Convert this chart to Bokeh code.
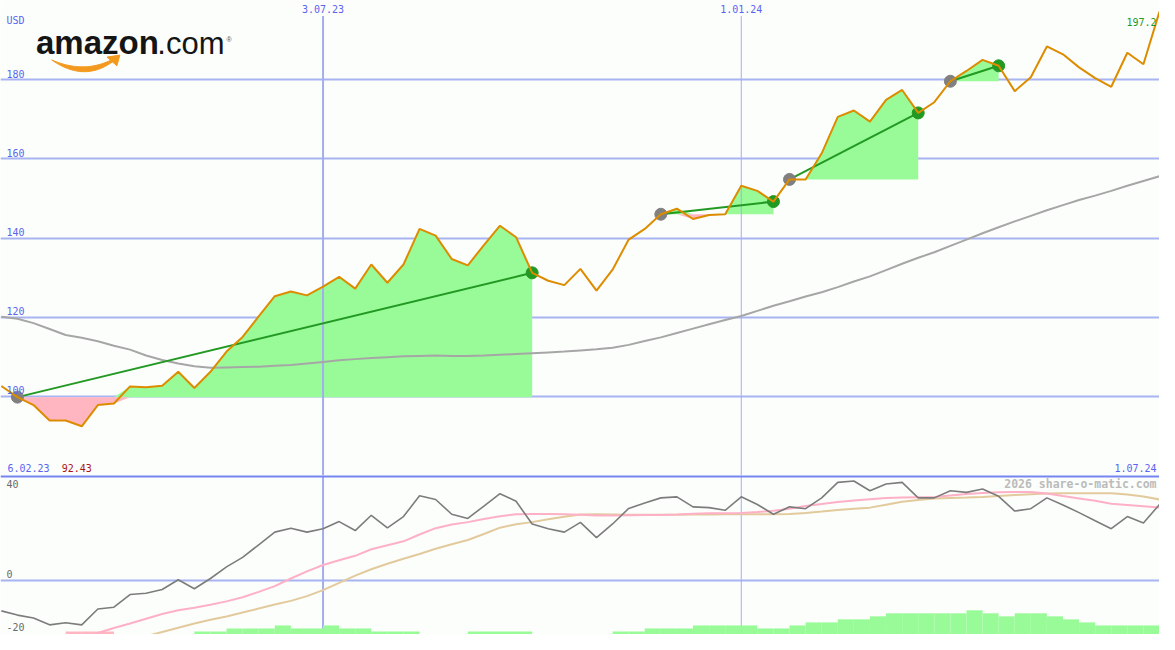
import numpy as np
import pandas as pd
from bokeh.plotting import figure
from bokeh.layouts import column
from bokeh.models import Range1d, Grid, FixedTicker, Span
from bokeh.core.properties import value
from bokeh.embed import file_html
from bokeh.resources import INLINE

# ---------------- data ----------------
lead_date = "2023-02-13"
first_date = "2023-02-20"
n_weeks = 72

lead_price = 102.6
price = [99.8, 97.8, 93.9, 93.9, 92.43, 97.8, 98.2, 102.5, 102.3, 102.7,
         106.2, 102.1, 106.2, 111.3, 115.0, 120.2, 125.3, 126.5, 125.5, 127.7,
         130.2, 127.2, 133.3, 128.7, 133.3, 142.3, 140.6, 134.7, 133.1, 138.2,
         143.1, 140.2, 131.2, 129.2, 128.1, 132.2, 126.7, 132.0, 139.6, 142.3,
         146.0, 147.4, 144.8, 145.8, 146.0, 153.2, 151.9, 149.2, 154.8, 154.8,
         161.4, 170.6, 172.2, 169.4, 174.9, 177.4, 171.6, 174.3, 179.6, 182.2,
         185.0, 183.5, 177.1, 180.6, 188.4, 186.4, 183.1, 180.4, 178.2, 186.8,
         183.9, 197.2]

lead_avg = 120.1
avg_long = [119.6, 118.5, 117.0, 115.5, 114.8, 113.9, 112.8, 111.8, 110.3, 109.2,
            108.3, 107.6, 107.2, 107.3, 107.4, 107.5, 107.7, 107.9, 108.3, 108.7,
            109.1, 109.4, 109.7, 109.9, 110.1, 110.2, 110.3, 110.2, 110.2, 110.3,
            110.5, 110.7, 110.9, 111.1, 111.3, 111.6, 111.9, 112.3, 113.0, 114.0,
            114.9, 116.0, 117.1, 118.2, 119.3, 120.3, 121.6, 122.9, 124.0, 125.2,
            126.3, 127.6, 129.0, 130.3, 131.9, 133.5, 135.0, 136.4, 138.0, 139.6,
            141.2, 142.7, 144.2, 145.6, 147.0, 148.3, 149.6, 150.7, 151.9, 153.2,
            154.4, 155.6]

lead_mom = -11.4
momentum = [-13.0, -14.1, -16.7, -15.9, -16.7, -10.7, -10.0, -5.2, -4.7, -3.3,
            0.4, -3.0, 0.9, 5.3, 8.9, 13.7, 18.5, 20.0, 18.5, 19.8,
            22.5, 19.1, 24.9, 20.1, 24.4, 32.3, 30.9, 25.3, 23.7, 28.4,
            33.1, 30.2, 21.6, 19.8, 18.5, 22.2, 16.4, 21.6, 27.5, 29.6,
            31.5, 31.9, 28.1, 27.8, 26.8, 31.9, 29.0, 25.3, 28.1, 27.4,
            31.5, 37.4, 37.9, 34.2, 36.8, 37.4, 31.5, 31.5, 34.2, 33.6,
            34.9, 32.1, 26.5, 27.4, 31.5, 28.8, 25.9, 22.8, 19.8, 24.4,
            22.0, 29.0]

lead_fast = -30.0
fast_avg = [-28.5, -27.0, -25.3, -23.6, -21.8, -19.8, -17.9, -16.2, -14.4, -12.6,
            -11.2, -10.2, -9.1, -7.8, -6.2, -4.2, -2.0, 0.9, 3.6, 6.0,
            7.8, 9.5, 12.0, 13.5, 15.0, 17.6, 20.0, 21.4, 22.3, 23.5,
            24.5, 25.3, 25.4, 25.4, 25.3, 25.1, 24.8, 24.8, 24.9, 25.0,
            25.0, 25.2, 25.5, 25.7, 25.7, 25.8, 26.1, 26.6, 27.4, 28.4,
            29.2, 29.9, 30.5, 31.0, 31.5, 31.6, 31.7, 31.8, 32.4, 33.0,
            33.4, 33.6, 33.7, 33.7, 33.2, 32.2, 31.3, 30.4, 29.3, 28.8,
            28.3, 27.8]

lead_slow = -35.0
slow_avg = [-33.5, -32.0, -30.5, -29.0, -27.5, -26.0, -24.3, -22.6, -21.0, -19.4,
            -17.8, -16.2, -14.8, -13.5, -12.0, -10.5, -9.0, -7.6, -5.8, -3.5,
            -0.8, 2.0, 4.4, 6.5, 8.4, 10.2, 12.2, 13.9, 15.5, 17.8,
            20.2, 21.5, 22.3, 23.4, 24.3, 25.2, 25.3, 25.2, 25.1, 25.1,
            25.1, 25.1, 25.2, 25.2, 25.3, 25.3, 25.3, 25.3, 25.4, 25.8,
            26.3, 26.9, 27.4, 27.8, 28.9, 30.0, 30.7, 31.3, 31.5, 31.6,
            31.8, 32.2, 32.6, 32.9, 33.2, 33.3, 33.3, 33.3, 33.3, 32.8,
            32.0, 30.9]

# weekly histogram levels (interval between consecutive weeks); sign = colour
hist = [0, 0, 0, -1, -1, -1, 0, 0, 0, 0,
        0, 1, 1, 2, 2, 2, 3, 2, 2, 3,
        2, 2, 1, 1, 1, 0, 0, 0, 1, 1,
        1, 1, 0, 0, 0, 0, 0, 1, 1, 2,
        2, 2, 3, 3, 3, 3, 2, 2, 3, 4,
        4, 5, 5, 6, 7, 7, 7, 7, 7, 8,
        7, 6, 7, 7, 6, 5, 4, 3, 3, 3,
        3]

trade_entry = [0, 40, 48, 58]
trade_exit = [32, 47, 56, 61]

y_ticks = [100, 120, 140, 160, 180]
y_unit = "USD"
low_ticks = [40, 0, -20]
low_grid = [0]
date_ticks = ["2023-07-03", "2024-01-01"]
date_labels = ["3.07.23", "1.01.24"]
start_label = "6.02.23"
end_label = "1.07.24"
credit = "2026 share-o-matic.com"

# ---------------- layout / style ----------------
W, H = 1159, 634
H_MAIN = 475
H_LOW = H - H_MAIN
REF_W, REF_MAIN, REF_LOW = 1175, 487, 163
LOW_K = 2.7  # ref px per unit in lower panel
LOW_TOP = 40.0
LOW_BOT = LOW_TOP - REF_LOW / LOW_K

BG = "#FCFEFC"
GRID = "#A8B4F2"
BLUE_TXT = "#5A64F0"
MONO = "DejaVu Sans Mono"


def ms(t):
    return pd.Timestamp(t).value / 1e6


XS = ms("2023-02-12 15:22")
XE = ms("2024-07-01 00:00")
X = [ms(d) for d in pd.date_range(first_date, periods=n_weeks, freq="7D")]
X_all = [ms(lead_date)] + X


def mx(px):
    return XS + (XE - XS) * px / REF_W


def my(py):
    return 200 - py * 120.0 / REF_MAIN


def ly(py):
    return LOW_TOP - (py - REF_MAIN) / LOW_K


def txt(fig, xs, ys, texts, size=10, color=BLUE_TXT, align="left", bold=False,
        font=MONO, xo=0, yo=0):
    # place text by its baseline: middle anchor shifted up by ~0.35 em
    fig.text(x=xs, y=ys, text=texts, text_font=value(font),
             text_font_size=f"{size}px", text_color=color, text_align=align,
             text_font_style="bold" if bold else "normal",
             text_baseline="middle", x_offset=xo, y_offset=yo - 0.35 * size)


xr = Range1d(XS, XE)

main = figure(width=W, height=H_MAIN, x_range=xr, y_range=Range1d(80, 200),
              output_backend="svg", toolbar_location=None,
              x_axis_location=None, y_axis_location=None, min_border=0,
              background_fill_color=BG, border_fill_color=BG,
              outline_line_color=None)
main.grid.grid_line_color = None
main.add_layout(Grid(dimension=1, ticker=FixedTicker(ticks=y_ticks),
                     grid_line_color=GRID, grid_line_width=2))

P = np.array(price)
# trade fills
for i, j in zip(trade_entry, trade_exit):
    xs = X[i:j + 1]
    ps = P[i:j + 1]
    e = np.full(len(ps), P[i])
    main.varea(x=xs, y1=e, y2=np.maximum(ps, e), fill_color="#98FB98")
    main.varea(x=xs, y1=np.minimum(ps, e), y2=e, fill_color="#FFB6C1")

# vertical date lines
vwidths = [2, 1]
for d, w in zip(date_ticks, vwidths):
    main.segment(x0=[ms(d)], y0=[80], x1=[ms(d)], y1=[my(16)],
                 line_color="#A4AEEE", line_width=w)

main.line(X_all, [lead_avg] + avg_long, line_color="#A6A6A6", line_width=2)

# trade lines and markers
main.segment(x0=[X[i] for i in trade_entry], y0=[P[i] for i in trade_entry],
             x1=[X[j] for j in trade_exit], y1=[P[j] for j in trade_exit],
             line_color="#229922", line_width=2)
main.scatter([X[i] for i in trade_entry], [P[i] for i in trade_entry],
             size=12, color="#808080")
main.scatter([X[j] for j in trade_exit], [P[j] for j in trade_exit],
             size=12, color="#229922")

main.line(X_all, [lead_price] + price, line_color="#DD8C00", line_width=2)

# texts main
txt(main, [mx(6)] * len(y_ticks), y_ticks, [str(v) for v in y_ticks], yo=-2.5)
txt(main, [mx(6)], [my(24)], [y_unit])
txt(main, [ms(d) for d in date_ticks], [my(12.5)] * len(date_ticks), date_labels,
    align="center")
txt(main, [mx(7)], [my(482.5)], [start_label])
txt(main, [mx(62)], [my(482.5)], [f"{P.min():g}"], color="#AA1414")
txt(main, [mx(1172)], [my(482.5)], [end_label], align="right")
imax = int(P.argmax())
txt(main, [X[imax]], [P[imax]], [f"{P.max():g}"], color="#229922", align="right",
    xo=-3, yo=14)

# logo
txt(main, [mx(36)], [my(55)], ["amazon"], size=33, color="#151515", bold=True,
    font="Liberation Sans")
txt(main, [mx(159)], [my(55)], [".com"], size=31, color="#151515",
    font="Liberation Sans")
txt(main, [mx(229)], [my(42)], ["®"], size=7, color="#555555",
    font="Liberation Sans")
t = np.linspace(0, 1, 30)


def qb(p0, p1, p2):
    return ((1 - t) ** 2 * p0[0] + 2 * (1 - t) * t * p1[0] + t ** 2 * p2[0],
            (1 - t) ** 2 * p0[1] + 2 * (1 - t) * t * p1[1] + t ** 2 * p2[1])


lx, lyy = qb((52, 61), (86, 85), (116, 61))
ux, uy = qb((52, 61), (86, 76), (116, 59))
sx = np.concatenate([lx, ux[::-1]])
sy = np.concatenate([lyy, uy[::-1]])
main.patch([mx(v) for v in sx], [my(v) for v in sy], color="#F39A1E")
main.patch([mx(v) for v in (108, 121, 118)], [my(v) for v in (58, 56, 67)],
           color="#F39A1E")

# ---------------- lower panel ----------------
low = figure(width=W, height=H_LOW, x_range=xr, y_range=Range1d(LOW_BOT, LOW_TOP),
             output_backend="svg", toolbar_location=None,
             x_axis_location=None, y_axis_location=None, min_border=0,
             background_fill_color=BG, border_fill_color=BG,
             outline_line_color=None)
low.grid.grid_line_color = None
low.add_layout(Grid(dimension=1, ticker=FixedTicker(ticks=low_grid),
                    grid_line_color=GRID, grid_line_width=2))
for d, w in zip(date_ticks, vwidths):
    low.add_layout(Span(location=ms(d), dimension="height", line_color="#A4AEEE",
                        line_width=w, level="underlay"))
low.add_layout(Span(location=LOW_TOP, dimension="width", line_color="#7686F0",
                    line_width=4))

H_arr = np.array(hist)
nz = np.nonzero(H_arr)[0]
low.quad(left=[X[i] for i in nz], right=[X[i + 1] for i in nz],
         bottom=[LOW_BOT] * len(nz),
         top=[LOW_BOT + abs(H_arr[i]) * 1.15 for i in nz],
         fill_color=["#98FB98" if H_arr[i] > 0 else "#FFB6C1" for i in nz],
         line_color=None)

low.line(X_all, [lead_slow] + slow_avg, line_color="#E2CA9C", line_width=2)
low.line(X_all, [lead_fast] + fast_avg, line_color="#FDB0C6", line_width=2)
low.line(X_all, [lead_mom] + momentum, line_color="#7C7C7C", line_width=1.6)

lab_y = []
for v in low_ticks:
    yv = v + 3 / LOW_K
    yv = min(yv, LOW_TOP - 12 / LOW_K)
    lab_y.append(yv)
txt(low, [mx(6)] * len(low_ticks), lab_y, [str(v) for v in low_ticks],
    color="#6A6A6A")
txt(low, [mx(1172)], [ly(500)], [credit], size=11.5, color="#BBBBBB",
    align="right", bold=True)

layout = column(main, low, spacing=0)
open("out.html", "w").write(file_html(layout, INLINE))
